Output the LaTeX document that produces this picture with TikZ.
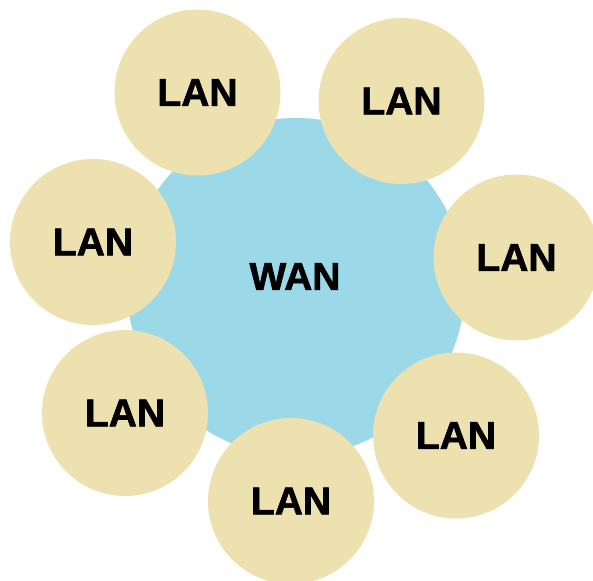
\documentclass[tikz,border=0pt]{standalone}
\usepackage{fontspec}
\setmainfont{Liberation Sans}
% heavy label face: bold Arial-metric sans, slightly emboldened
\newfontfamily\heavyface[FakeBold=1.6]{Liberation Sans Bold}
\definecolor{lanfill}{RGB}{237,225,175}
\definecolor{wanfill}{RGB}{155,217,233}
\begin{document}
\begin{tikzpicture}[x=1pt,y=-1pt,
  label text/.style={font=\heavyface\fontsize{39}{47}\selectfont, text=black},
  wannet/.style={circle, fill=wanfill, draw=none, minimum size=338pt, inner sep=0pt, label text},
  lannet/.style={circle, fill=lanfill, draw=none, minimum size=166pt, inner sep=0pt, label text}]
  \useasboundingbox (0,0) rectangle (593,580);
  \clip (0,0) rectangle (593,580);
  % central wide area network
  \node[wannet] (wan) at (296,287) {};
  \node[label text] (wantext) at (295,276.5) {WAN};
  % surrounding local area networks
  \node[lannet] (lan1) at (197.5,92.5) {LAN};
  \node[lannet] (lan2) at (401.5,101) {LAN};
  \node[lannet] (lan3) at (516.5,257.5) {LAN};
  \node[lannet] (lan4) at (456,435.5) {LAN};
  \node[lannet] (lan5) at (291,501) {LAN};
  \node[lannet] (lan6) at (125,413) {LAN};
  \node[lannet] (lan7) at (93,242) {LAN};
\end{tikzpicture}
\end{document}
